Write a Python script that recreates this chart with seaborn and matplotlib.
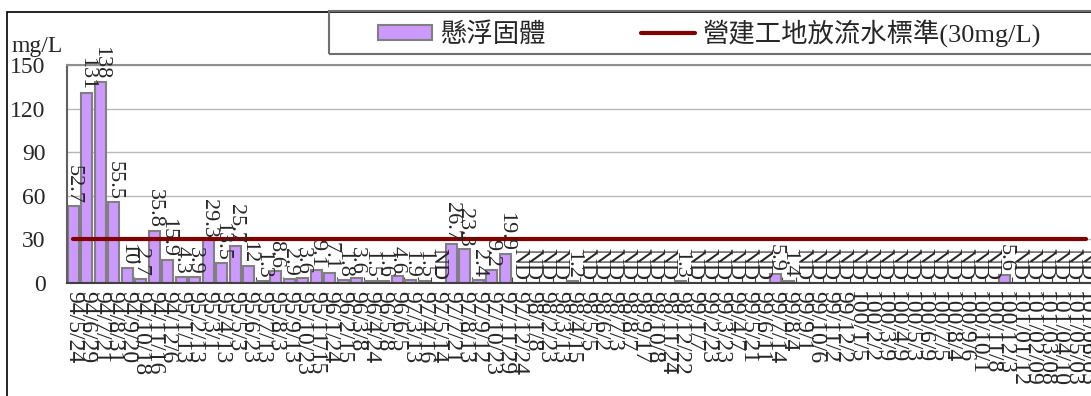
import numpy as np
import pandas as pd
import matplotlib
matplotlib.use("Agg")
import matplotlib.pyplot as plt
from matplotlib.patches import Rectangle, Patch
from matplotlib.lines import Line2D
import seaborn as sns

# sampling dates (ROC calendar)
dates = ["94/5/24", "94/6/29", "94/7/21", "94/8/31", "94/9/20", "94/10/18", "94/11/16", "94/12/6",
         "95/1/13", "95/2/13", "95/3/1", "95/4/13", "95/5/3", "95/6/23", "95/7/13", "95/8/3",
         "95/9/13", "95/10/23", "95/11/15",
         "96/1/24", "96/2/15", "96/3/8", "96/4/24", "96/5/8", "96/6/5",
         "97/3/13", "97/4/16", "97/5/14", "97/7/21", "97/8/13", "97/9/12", "97/10/23", "97/11/29", "97/12/24",
         "98/1/8", "98/2/23", "98/3/13", "98/4/15", "98/5/5", "98/6/2", "98/7/3", "98/8/7",
         "98/9/17", "98/10/8", "98/11/24", "98/12/22",
         "99/1/7", "99/2/23", "99/3/23", "99/4/7", "99/5/21", "99/6/11", "99/7/14", "99/8/4",
         "99/9/1", "99/10/6", "99/11/2", "99/12/2",
         "100/1/5", "100/2/2", "100/3/9", "100/4/9", "100/5/3", "100/6/9", "100/7/5", "100/8/4",
         "100/9/6", "100/10/1", "100/11/8", "100/12/3",
         "101/01/12", "101/02/09", "101/03/08", "101/04/10", "101/05/03", "101/06/05"]

# suspended solids, mg/L (None = ND)
ss = [52.7, 131, 138, 55.5, 10, 2.7, 35.8, 15.9, 4.3, 3.9,
      29.3, 13.5, 25.7, 12, 1.3, 8.6, 2.9, 3.6, 9.1, 7.1,
      1.8, 3.6, 1.5, 1.6, 4.6, 1.9, 1.5, None, 26.7, 23.3,
      2.4, 9.2, 19.9, None, None, None, None, 1.2, None, None,
      None, None, None, None, None, 1.3, None, None, None, None,
      None, None, 5.9, 1.4, None, None, None, None, None, None,
      None, None, None, None, None, None, None, None, None, 5.6,
      None, None, None, None, None, None]

standard = 30
bar_name = "懸浮固體"
line_name = "營建工地放流水標準(30mg/L)"

sns.set_theme(style="white")
plt.rcParams['font.family'] = ['Liberation Serif', 'Noto Sans CJK TC']

n = len(dates)
heights = [0 if v is None else v for v in ss]
labels = ["ND" if v is None else f"{v:g}" for v in ss]
df = pd.DataFrame({"date": dates, "ss": heights})

W, H = 1091, 396
fig = plt.figure(figsize=(W / 100, H / 100), dpi=100)
ax = fig.add_axes([66.6 / W, 113 / H, (1092.5 - 66.6) / W, 218 / H])

sns.barplot(data=df, x="date", y="ss", color="#CC99FF", edgecolor="#808080",
            linewidth=1.5, width=0.8, saturation=1, ax=ax, zorder=2)
sns.lineplot(x=np.arange(n), y=[standard] * n, color="#800000", linewidth=3,
             ax=ax, legend=False, zorder=3)

for i, (h, lab) in enumerate(zip(heights, labels)):
    ax.annotate(lab, (i, h), xytext=(0, 2), textcoords="offset points",
                rotation=-90, ha="center", va="bottom", fontsize=16, zorder=4)

ax.set_xlim(-0.5, n - 0.5)
ax.set_ylim(0, 150)
ax.set_yticks(np.arange(0, 151, 30))
ax.set_xlabel("")
ax.set_ylabel("")
ax.yaxis.grid(True, color="#B8B8B8", linewidth=1)
ax.set_axisbelow(True)

ax.set_xticks(range(n))
ax.set_xticklabels(dates, rotation=-90, ha="center", va="top", fontsize=17)
ax.set_xticks(np.arange(n + 1) - 0.5, minor=True)
ax.tick_params(axis="x", which="major", length=0, pad=6)
ax.tick_params(axis="x", which="minor", bottom=True, direction="in", length=4,
               width=0.8, color="#404040")
ax.tick_params(axis="y", length=0, pad=15, labelsize=17)

ax.spines["right"].set_visible(False)
ax.spines["left"].set_color("#606060")
ax.spines["bottom"].set_color("#404040")
ax.spines["top"].set_color("#909090")
for s in ["left", "bottom", "top"]:
    ax.spines[s].set_linewidth(1.5)

fig.text(12 / W, 1 - 52 / H, "mg/L", fontsize=17, ha="left", va="baseline")

# outer chart frame and legend box
fig.add_artist(Rectangle((6.5 / W, -0.05), 1.1, 1 - 11.5 / H + 0.05,
                         transform=fig.transFigure, fill=False,
                         edgecolor="black", linewidth=1.2))
fig.add_artist(Rectangle((329 / W, 1 - 54 / H), 1.0, (54 - 11.5) / H,
                         transform=fig.transFigure, fill=False,
                         edgecolor="#707070", linewidth=1.5))

handles = [Patch(facecolor="#CC99FF", edgecolor="#808080", linewidth=1.5),
           Line2D([], [], color="#800000", linewidth=3)]
fig.legend(handles, [bar_name, line_name], loc="center left",
           bbox_to_anchor=(378 / W, 1 - 33 / H), ncol=2, frameon=False,
           fontsize=19, handlelength=2.05, handleheight=0.5, handletextpad=0.3,
           columnspacing=3.6, borderpad=0, borderaxespad=0)

fig.savefig("out.png", dpi=100)
